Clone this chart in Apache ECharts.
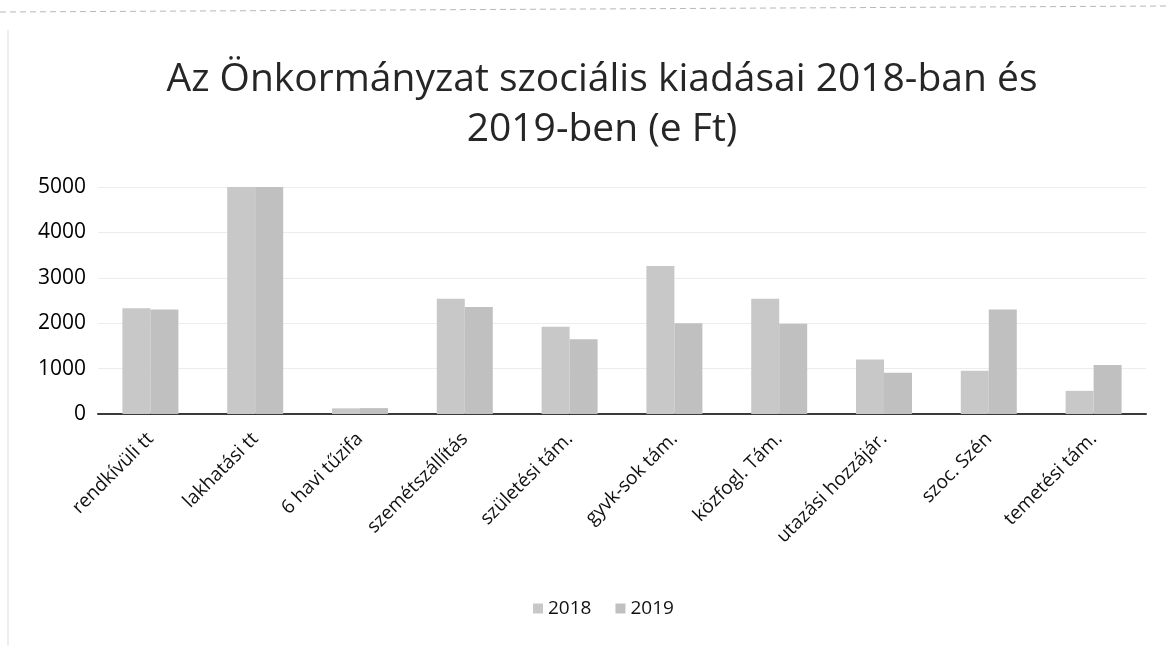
<!DOCTYPE html>
<html>
<head>
<meta charset="utf-8">
<script src="https://cdn.jsdelivr.net/npm/echarts@6/dist/echarts.min.js"></script>
<style>
html,body{margin:0;padding:0;background:#fff;}
#c{width:1170px;height:646px;}
</style>
</head>
<body>
<div id="c"></div>
<script>
const categories = ['rendkívüli tt','lakhatási tt','6 havi tűzifa','szemétszállítás','születési tám.','gyvk-sok tám.','közfogl. Tám.','utazási hozzájár.','szoc. Szén','temetési tám.'];
const values2018 = [2330, 5000, 125, 2540, 1920, 3260, 2540, 1200, 950, 510];
const values2019 = [2300, 5000, 130, 2355, 1645, 2000, 1990, 910, 2300, 1080];
const yTicks = [0, 1000, 2000, 3000, 4000, 5000];
const seriesNames = ['2018', '2019'];

const chart = echarts.init(document.getElementById('c'));
chart.setOption({
  backgroundColor: '#ffffff',
  animation: false,
  title: {
    text: 'Az Önkormányzat szociális kiadásai 2018-ban és\n2019-ben (e Ft)',
    left: 597,
    textAlign: 'center',
    top: 50,
    textStyle: {
      fontFamily: 'Open Sans',
      fontSize: 39,
      fontWeight: 'normal',
      color: '#262626',
      lineHeight: 50
    }
  },
  legend: {
    data: seriesNames,
    top: 594,
    left: 528,
    itemWidth: 10,
    itemHeight: 10,
    itemGap: 24,
    icon: 'rect',
    textStyle: { fontFamily: 'Open Sans', fontSize: 19, color: '#111' }
  },
  graphic: [
    { type: 'line', shape: { x1: 0, y1: 12, x2: 1170, y2: 6 }, style: { stroke: '#b8b8b8', lineWidth: 1, lineDash: [6, 4] }, silent: true },
    { type: 'line', shape: { x1: 8, y1: 30, x2: 8, y2: 646 }, style: { stroke: '#dddddd', lineWidth: 1 }, silent: true }
  ],
  grid: { left: 98, right: 24, top: 187, height: 227, containLabel: false },
  xAxis: {
    type: 'category',
    data: categories,
    axisTick: { show: false },
    axisLine: { lineStyle: { color: '#3a3a3a', width: 2 } },
    axisLabel: {
      rotate: 45,
      interval: 0,
      margin: 22,
      fontFamily: 'Open Sans',
      fontSize: 19,
      color: '#111'
    }
  },
  yAxis: {
    type: 'value',
    min: yTicks[0],
    max: yTicks[yTicks.length - 1],
    interval: 1000,
    axisLine: { show: false },
    axisTick: { show: false },
    splitLine: { lineStyle: { color: '#ededed', width: 1 } },
    axisLabel: {
      margin: 12,
      fontFamily: 'Open Sans',
      fontSize: 21,
      color: '#000',
      formatter: function (v) { return String(v); }
    }
  },
  series: [
    {
      name: seriesNames[0], type: 'bar', data: values2018,
      barWidth: 28, barGap: '0%',
      itemStyle: { color: '#c8c8c8' }
    },
    {
      name: seriesNames[1], type: 'bar', data: values2019,
      barWidth: 28, barGap: '0%',
      itemStyle: { color: '#c0c0c0' }
    }
  ]
});
</script>
</body>
</html>
